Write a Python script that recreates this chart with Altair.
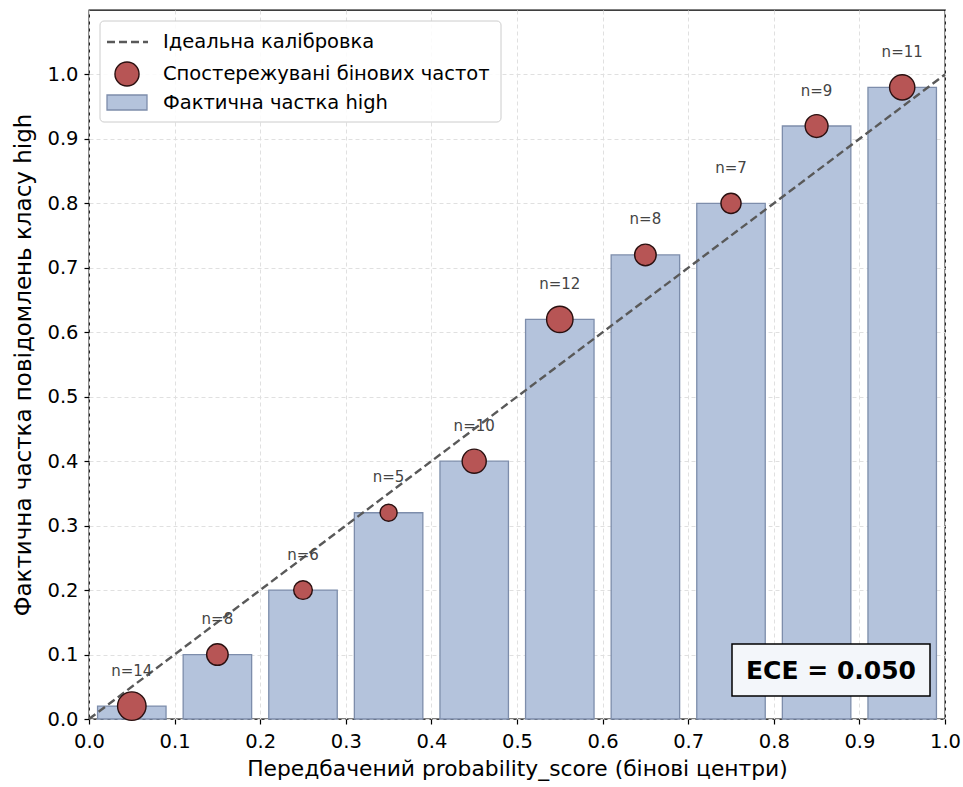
import altair as alt
import pandas as pd

# ---- data ----
bin_centers = [0.05, 0.15, 0.25, 0.35, 0.45, 0.55, 0.65, 0.75, 0.85, 0.95]
observed_frac = [0.02, 0.10, 0.20, 0.32, 0.40, 0.62, 0.72, 0.80, 0.92, 0.98]
bin_counts = [14, 8, 6, 5, 10, 12, 8, 7, 9, 11]
ideal_x = [0.0, 1.0]
ideal_y = [0.0, 1.0]
ece_value = 0.050
legend_labels = ["Ідеальна калібровка", "Спостережувані бінових частот", "Фактична частка high"]
x_ticks = [round(i * 0.1, 1) for i in range(11)]
y_ticks = [round(i * 0.1, 1) for i in range(11)]
bar_half_width = 0.04
label_offset = 0.055

FONT = "DejaVu Sans"
W, H = 856, 709

df = pd.DataFrame({
    "center": bin_centers,
    "frac": observed_frac,
    "n": bin_counts,
})
df["x0"] = df["center"] - bar_half_width
df["x1"] = df["center"] + bar_half_width
df["label_y"] = df["frac"] + label_offset
df["label"] = ["n=" + str(n) for n in bin_counts]

x_scale = alt.Scale(domain=[0, 1], nice=False, zero=False)
y_scale = alt.Scale(domain=[0, 1.1], nice=False, zero=False)

common_axis = dict(format=".1f", grid=True, gridDash=[4, 3], gridColor="#e0e0e0", gridWidth=1,
                   labelFont=FONT, labelFontSize=19.5, labelColor="#000", titleFont=FONT,
                   titleFontWeight="normal", titleColor="#000",
                   tickColor="#000", tickSize=5, tickWidth=1.2, domain=False, labelFlush=False,
                   labelOverlap=False)
x_axis = alt.Axis(values=x_ticks, title="Передбачений probability_score (бінові центри)",
                  labelPadding=8, titlePadding=8, titleFontSize=21.8, **common_axis)
y_axis = alt.Axis(values=y_ticks, title="Фактична частка повідомлень класу high",
                  labelPadding=6, titlePadding=11, titleFontSize=23, **common_axis)

base = alt.Chart(df)

bars = base.mark_rect(fill="#b4c3dc", stroke="#7d8dab", strokeWidth=1.3).encode(
    x=alt.X("x0:Q", scale=x_scale, axis=x_axis),
    x2="x1:Q",
    y=alt.Y("frac:Q", scale=y_scale, axis=y_axis),
    y2=alt.datum(0),
)

ideal_df = pd.DataFrame({"x": ideal_x, "y": ideal_y})
ideal = alt.Chart(ideal_df).mark_line(color="#595959", strokeWidth=2.4, strokeDash=[8, 4]).encode(
    x=alt.X("x:Q", scale=x_scale),
    y=alt.Y("y:Q", scale=y_scale),
)

points = base.mark_point(filled=True, shape="circle", fill="#b75555", fillOpacity=1,
                         stroke="#2a1010", strokeWidth=1.4, opacity=1).encode(
    x=alt.X("center:Q", scale=x_scale),
    y=alt.Y("frac:Q", scale=y_scale),
    size=alt.Size("n:Q", scale=alt.Scale(domain=[0, 14], range=[0, 14 * 58]), legend=None),
)

labels = base.mark_text(font=FONT, fontSize=15, color="#444444", baseline="middle", align="center").encode(
    x=alt.X("center:Q", scale=x_scale),
    y=alt.Y("label_y:Q", scale=y_scale),
    text="label:N",
)

# ---- manual legend ----
one = pd.DataFrame({"k": [0]})
leg_box = alt.Chart(one).mark_rect(fill="white", fillOpacity=0.85, stroke="#cccccc", strokeWidth=1,
                                   cornerRadius=4).encode(
    x=alt.value(11), x2=alt.value(412), y=alt.value(11), y2=alt.value(112))
leg_line = alt.Chart(one).mark_rule(color="#595959", strokeWidth=2.4, strokeDash=[8, 4]).encode(
    x=alt.value(18), x2=alt.value(59), y=alt.value(32))
leg_pt = alt.Chart(one).mark_point(filled=True, shape="circle", fill="#b75555", fillOpacity=1,
                                   stroke="#2a1010", strokeWidth=1.4, opacity=1, size=580).encode(
    x=alt.value(38), y=alt.value(64))
leg_rect = alt.Chart(one).mark_rect(fill="#b4c3dc", stroke="#7d8dab", strokeWidth=1.3).encode(
    x=alt.value(18), x2=alt.value(58), y=alt.value(85), y2=alt.value(100))
leg_df = pd.DataFrame({"label": legend_labels, "ypix": [32, 64, 93]})
leg_text = alt.Chart(leg_df).mark_text(font=FONT, fontSize=19.5, color="#000", align="left",
                                       baseline="middle").encode(
    x=alt.value(74), y=alt.Y("ypix:Q", scale=None), text="label:N")

# ---- ECE box ----
ece_box = alt.Chart(one).mark_rect(fill="#f3f6fa", stroke="#000", strokeWidth=1.5).encode(
    x=alt.value(643), x2=alt.value(841), y=alt.value(634), y2=alt.value(686))
ece_df = pd.DataFrame({"t": ["ECE = " + format(ece_value, ".3f")]})
ece_text = alt.Chart(ece_df).mark_text(font=FONT, fontSize=25, fontWeight="bold", color="#000",
                                       align="center", baseline="middle").encode(
    x=alt.value(742), y=alt.value(661), text="t:N")

chart = alt.layer(bars, ideal, points, labels, leg_box, leg_line, leg_pt, leg_rect, leg_text,
                  ece_box, ece_text).properties(
    width=W, height=H,
    padding={"left": 89, "top": 10, "right": 18, "bottom": 68},
    autosize=alt.AutoSizeParams(type="none"),
    background="white",
).configure_view(stroke="#000", strokeWidth=1.3)

chart.save("out.html", embed_options={"renderer": "svg", "actions": False})
